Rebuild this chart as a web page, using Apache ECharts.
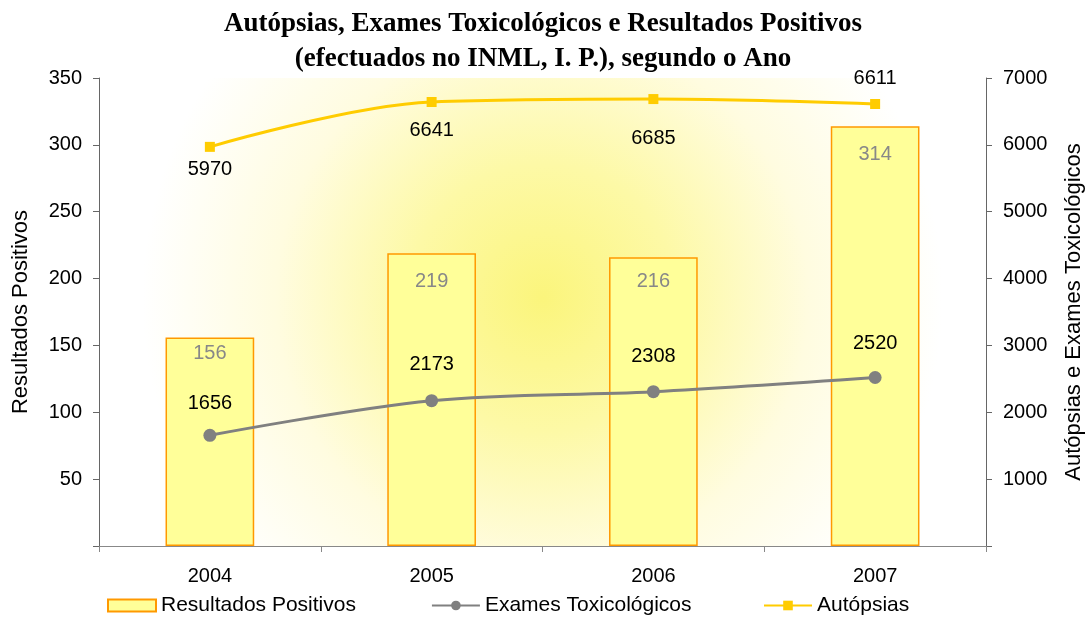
<!DOCTYPE html>
<html><head><meta charset="utf-8">
<script src="https://cdn.jsdelivr.net/npm/echarts@6/dist/echarts.min.js"></script>
<style>html,body{margin:0;padding:0;background:#fff;overflow:hidden}#c{width:1086px;height:623px}</style>
</head><body><div id="c"></div>
<script>
const years = ['2004','2005','2006','2007'];
const resultadosPositivos = [156, 219, 216, 314];
const examesToxicologicos = [1656, 2173, 2308, 2520];
const autopsias = [5970, 6641, 6685, 6611];
const leftTicks = [0, 350, 50];
const rightTicks = [0, 7000, 1000];

const barLabelOffset = [16, 28, 24, 28];
const examesLabelOffset = [-32, -36, -35, -34];
const autopsiasLabelOffset = [23, 28, 39, -26];

const G = {l: 99, r: 100, t: 78, b: 77};
const chart = echarts.init(document.getElementById('c'));
const font = 'Liberation Sans, Arial, sans-serif';
const legendText = {fontFamily: font, fontSize: 21, color: '#000'};
chart.setOption({
  animation: false,
  backgroundColor: '#fff',
  title: {
    text: 'Autópsias, Exames Toxicológicos e Resultados Positivos\n(efectuados no INML, I. P.), segundo o Ano',
    left: 'center', top: 2,
    textStyle: {fontFamily: 'Liberation Serif, Times New Roman, serif', fontWeight: 'bold', fontSize: 27, lineHeight: 35, color: '#000'}
  },
  graphic: [{
    type: 'rect', z: -10, silent: true,
    shape: {x: G.l, y: G.t, width: 1086 - G.l - G.r, height: 623 - G.t - G.b},
    style: {fill: {type: 'radial', x: 0.5, y: 0.47, r: 0.95, colorStops: [
      {offset: 0, color: '#fbf57c'}, {offset: 0.3, color: '#fdf9a6'}, {offset: 0.6, color: '#fffce0'}, {offset: 0.9, color: '#ffffff'}, {offset: 1, color: '#ffffff'}]}}
  }],
  legend: [{
    bottom: 2, left: 102, itemGap: 75, itemWidth: 48, itemHeight: 12,
    textStyle: legendText,
    data: [
      {name: 'Resultados Positivos', icon: 'rect'},
      {name: 'Exames Toxicológicos'}
    ]
  }, {
    bottom: 2, left: 758, itemWidth: 48, itemHeight: 12,
    textStyle: legendText,
    data: [{name: 'Autópsias'}]
  }],
  grid: {left: G.l, right: G.r, top: G.t, bottom: G.b, outerBoundsMode: 'none', containLabel: false},
  xAxis: {
    type: 'category', data: years,
    axisLine: {lineStyle: {color: '#888', width: 1}},
    axisTick: {show: true, length: 6, lineStyle: {color: '#888'}},
    axisLabel: {fontFamily: font, fontSize: 20, color: '#000', margin: 20}
  },
  yAxis: [{
    type: 'value', min: leftTicks[0], max: leftTicks[1], interval: leftTicks[2],
    name: 'Resultados Positivos', nameLocation: 'middle', nameRotate: 90, nameGap: 67,
    nameTextStyle: {fontFamily: font, fontSize: 22, color: '#000'},
    axisLine: {show: true, lineStyle: {color: '#666'}},
    axisTick: {show: true, length: 6, lineStyle: {color: '#666'}},
    axisLabel: {fontFamily: font, fontSize: 20, color: '#000', margin: 17,
      formatter: v => v === 0 ? '' : v},
    splitLine: {show: false}
  }, {
    type: 'value', min: rightTicks[0], max: rightTicks[1], interval: rightTicks[2],
    name: 'Autópsias e Exames Toxicológicos', nameLocation: 'middle', nameRotate: 90, nameGap: 77,
    nameTextStyle: {fontFamily: font, fontSize: 22, color: '#000'},
    axisLine: {show: true, lineStyle: {color: '#666'}},
    axisTick: {show: true, length: 6, lineStyle: {color: '#666'}},
    axisLabel: {fontFamily: font, fontSize: 20, color: '#000', margin: 17,
      formatter: v => v === 0 ? '' : v},
    splitLine: {show: false}
  }],
  series: [{
    name: 'Resultados Positivos', type: 'bar', barWidth: '40%', yAxisIndex: 0,
    itemStyle: {color: '#ffff99', borderColor: '#ff9900', borderWidth: 1.5},
    data: resultadosPositivos.map((v, i) => ({value: v,
      label: {show: true, position: 'insideTop', offset: [0, barLabelOffset[i] - 15],
        fontFamily: font, fontSize: 20, color: '#888'}}))
  }, {
    name: 'Exames Toxicológicos', type: 'line', yAxisIndex: 1, smooth: 0.35,
    symbol: 'circle', symbolSize: 13,
    lineStyle: {color: '#808080', width: 3}, itemStyle: {color: '#808080'},
    data: examesToxicologicos.map((v, i) => ({value: v,
      label: {show: true, position: 'inside', offset: [0, examesLabelOffset[i]],
        fontFamily: font, fontSize: 20, color: '#000'}}))
  }, {
    name: 'Autópsias', type: 'line', yAxisIndex: 1, smooth: 0.35,
    symbol: 'rect', symbolSize: 10,
    lineStyle: {color: '#ffcc00', width: 3}, itemStyle: {color: '#ffcc00'},
    data: autopsias.map((v, i) => ({value: v,
      label: {show: true, position: 'inside', offset: [0, autopsiasLabelOffset[i]],
        fontFamily: font, fontSize: 20, color: '#000'}}))
  }]
});
</script></body></html>
